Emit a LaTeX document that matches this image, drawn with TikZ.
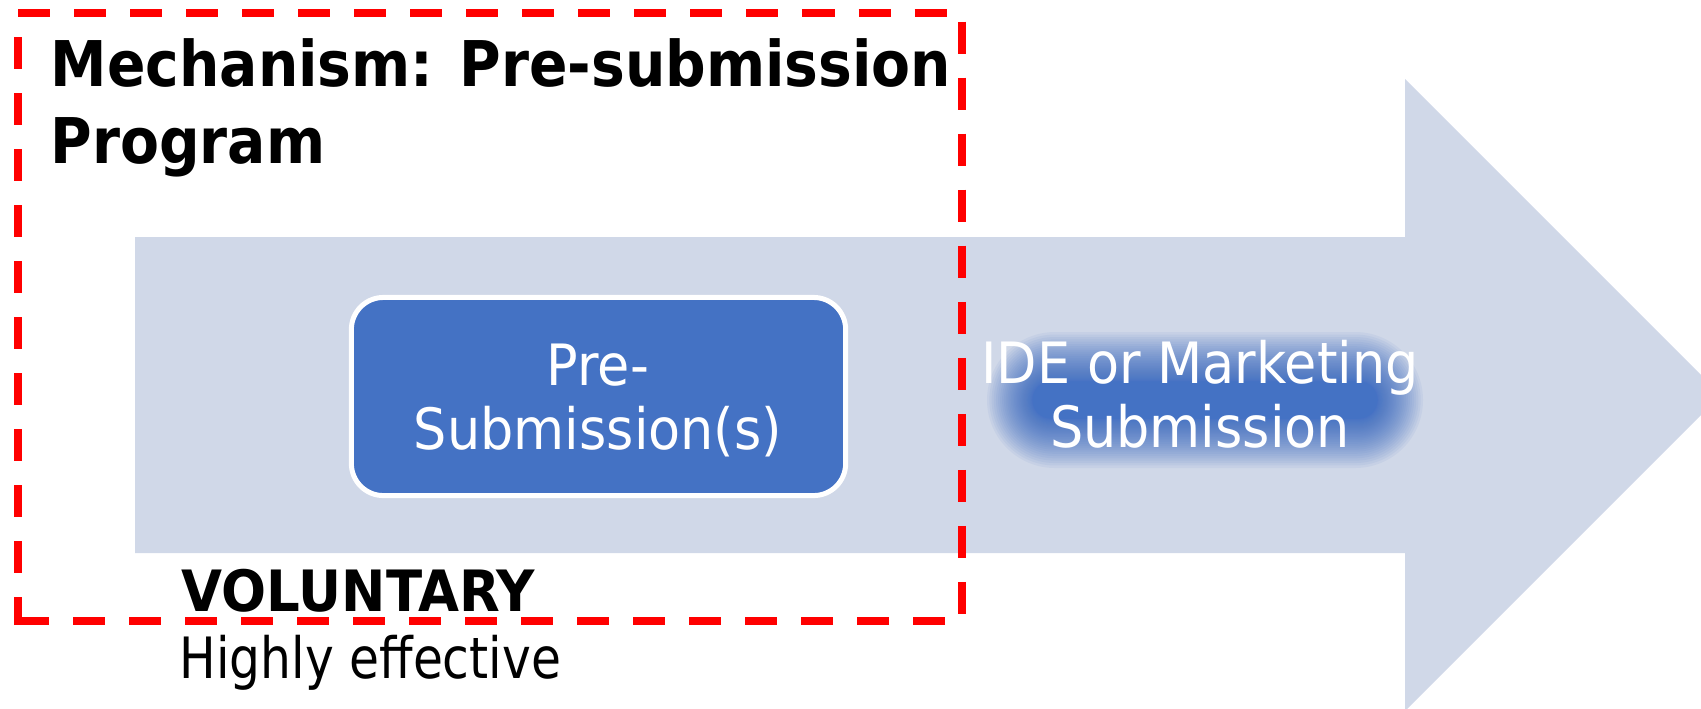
\documentclass[tikz,border=0pt]{standalone}
\usepackage{fontspec}
\newfontfamily\labelfont{DejaVu Sans}[FakeStretch=0.92]
\newfontfamily\notefont{DejaVu Sans}[FakeStretch=0.855]
\newfontfamily\headfont{DejaVu Sans}[FakeStretch=0.90]
\newfontfamily\markfont{DejaVu Sans}[FakeStretch=0.93]
\definecolor{arrowfill}{HTML}{D0D8E8}
\definecolor{boxblue}{HTML}{4472C4}
\definecolor{framered}{HTML}{FF0000}

\begin{document}
\begin{tikzpicture}[x=0.01cm, y=-0.01cm,
  arrowbody/.style={fill=arrowfill, draw=none},
  glowlayer/.style={fill=boxblue, fill opacity=0.07, draw=none},
  prebox/.style={draw=white, line width=0.05cm, fill=boxblue,
    rounded corners=0.32cm, minimum width=4.94cm, minimum height=1.98cm,
    inner sep=0pt},
  frame/.style={draw=framered, line width=0.08cm,
    dash pattern=on 0.32cm off 0.24cm},
  titletext/.style={font=\headfont\bfseries\fontsize{17.93}{20}\selectfont,
    text=black, inner sep=0pt, anchor=base west},
  boldnote/.style={font=\markfont\bfseries\fontsize{16.2}{19}\selectfont,
    text=black, inner sep=0pt, anchor=base west},
  plainnote/.style={font=\notefont\fontsize{16.2}{19}\selectfont,
    text=black, inner sep=0pt, anchor=base west},
  boxtext/.style={font=\labelfont\fontsize{16.2}{19}\selectfont,
    text=white, inner sep=0pt, anchor=base},
]
\useasboundingbox (0,0) rectangle (1701,708);
\clip (0,0) rectangle (1701,708);

% process arrow (shaft and head)
\fill[arrowbody] (135,237) -- (1405,237) -- (1405,79) -- (1721,395)
  -- (1405,711) -- (1405,553) -- (135,553) -- cycle;

% soft glow behind the second stage label: stacked translucent
% layers, spaced wider towards the outside for a gradual fade
\foreach \k in {0,...,39}{
  \pgfmathsetmacro\s{(1-\k/39)^2}
  \pgfmathsetmacro\hw{172+46*\s}
  \pgfmathsetmacro\hh{18+50*\s}
  \pgfmathsetmacro\rr{\hh*0.01}
  \fill[glowlayer, rounded corners=\rr cm]
    (1205-\hw,400-\hh) rectangle (1205+\hw,400+\hh);
}

% first stage box
\node[prebox] (pre) at (598.5,396.5) {};
\node[boxtext] (pre1) at (598,385) {Pre-};
\node[boxtext] (pre2) at (598,449) {Submission(s)};

% second stage label
\node[boxtext] (ide1) at (1200,383) {IDE or Marketing};
\node[boxtext] (ide2) at (1200,447) {Submission};

% mechanism title and notes
\node[titletext] (ttl1) at (50,86) {Mechanism: Pre-submission};
\node[titletext] (ttl2) at (50,163) {Program};
\node[boldnote] (vol) at (181,611) {VOLUNTARY};
\node[plainnote] (eff) at (179,678) {Highly effective};

% dashed frame around the mechanism
\draw[frame] (18,13) -- (962,13) -- (962,621) -- (18,621);
\draw[frame, dash phase=0.04cm] (18,625) -- (18,13);
\end{tikzpicture}
\end{document}
